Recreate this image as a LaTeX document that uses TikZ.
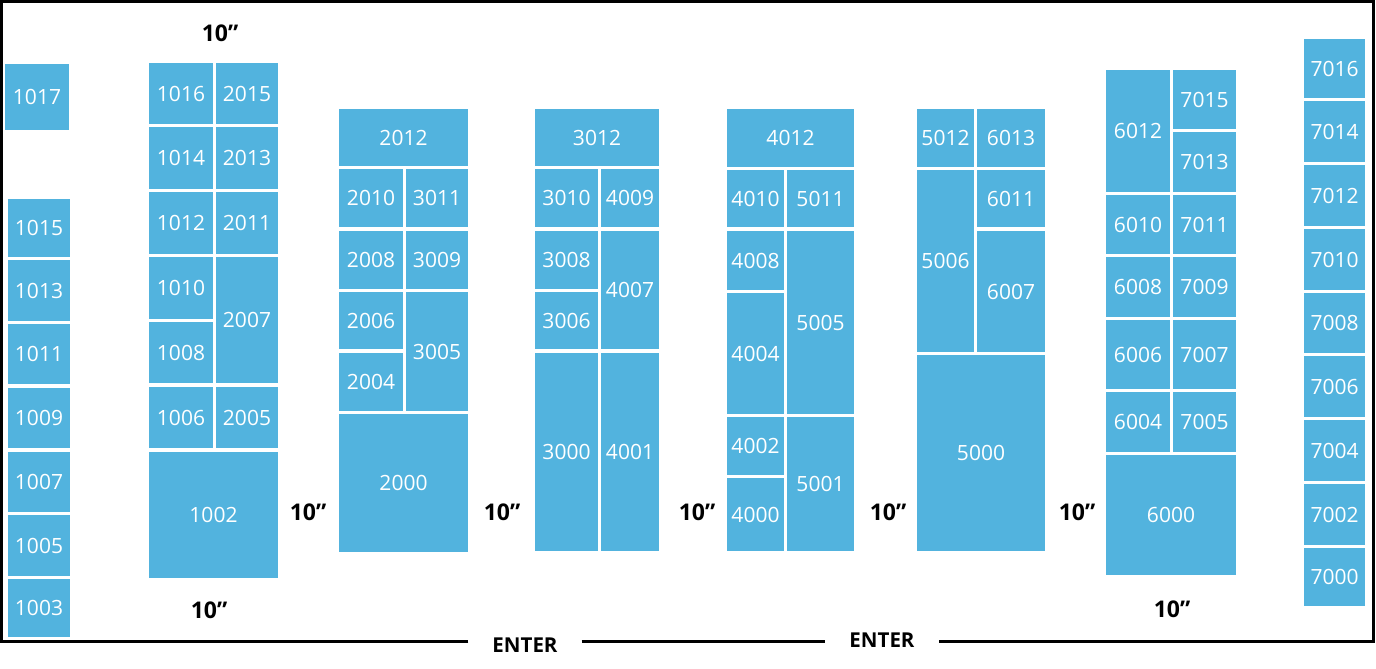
\documentclass[tikz,border=0pt]{standalone}
\usepackage{fontspec}
\setmainfont{Open Sans}
\definecolor{cellblue}{RGB}{82,179,222}
\tikzset{
  cell/.style={fill=cellblue, draw=none, inner sep=0pt, text=white, font=\fontsize{21}{23}\selectfont},
  dim/.style={inner sep=0pt, font=\fontsize{23}{25}\selectfont\bfseries},
  enterlbl/.style={inner xsep=24pt, inner ysep=0pt, font=\fontsize{20.5}{22}\selectfont\bfseries},
  frame/.style={line width=3pt, black}
}
\newcommand\blk[6]{%
  \pgfmathsetmacro\blkW{#4-#2}\pgfmathsetmacro\blkH{#5-#3}%
  \pgfmathsetmacro\blkX{(#2+#4)/2}\pgfmathsetmacro\blkY{(#3+#5)/2}%
  \node[cell, minimum width=\blkW pt, minimum height=\blkH pt] (#1) at (\blkX,\blkY) {#6};}
\begin{document}
\begin{tikzpicture}[x=1pt,y=-1pt]
\useasboundingbox (0,0) rectangle (1376,669);
% frame
\coordinate (tl) at (1.4,1.5);
\coordinate (tr) at (1373,1.5);
\coordinate (br) at (1373,641.7);
\coordinate (bl) at (1.4,641.7);
\node[enterlbl] (enter1) at (525,645) {ENTER};
\node[enterlbl] (enter2) at (882,640) {ENTER};
\draw[frame, line join=miter] (enter1.west |- bl) -- (bl) -- (tl) -- (tr) -- (br) -- (enter2.east |- br);
\draw[frame] (enter1.east |- bl) -- (enter2.west |- bl);
% column A
\blk{c1017}{5}{64}{69}{130}{1017}
\blk{c1015}{8}{199}{70}{257}{1015}
\blk{c1013}{8}{260}{70}{321}{1013}
\blk{c1011}{8}{324}{70}{384}{1011}
\blk{c1009}{8}{388}{70}{448}{1009}
\blk{c1007}{8}{452}{70}{512}{1007}
\blk{c1005}{8}{515}{70}{576}{1005}
\blk{c1003}{8}{579}{70}{637}{1003}
% column B
\blk{c1016}{149}{63}{213}{124}{1016}
\blk{c2015}{216}{63}{278}{124}{2015}
\blk{c1014}{149}{127}{213}{189}{1014}
\blk{c2013}{216}{127}{278}{189}{2013}
\blk{c1012}{149}{192}{213}{254}{1012}
\blk{c2011}{216}{192}{278}{254}{2011}
\blk{c1010}{149}{257}{213}{319}{1010}
\blk{c2007}{216}{257}{278}{383}{2007}
\blk{c1008}{149}{322}{213}{383}{1008}
\blk{c1006}{149}{387}{213}{448}{1006}
\blk{c2005}{216}{387}{278}{448}{2005}
\blk{c1002}{149}{452}{278}{578}{1002}
% column C
\blk{c2012}{339}{109}{468}{166}{2012}
\blk{c2010}{339}{169}{403}{227}{2010}
\blk{c3011}{406}{169}{468}{227}{3011}
\blk{c2008}{339}{231}{403}{289}{2008}
\blk{c3009}{406}{231}{468}{289}{3009}
\blk{c2006}{339}{292}{403}{349}{2006}
\blk{c3005}{406}{292}{468}{411}{3005}
\blk{c2004}{339}{353}{403}{411}{2004}
\blk{c2000}{339}{414}{468}{552}{2000}
% column D
\blk{c3012}{535}{109}{659}{166}{3012}
\blk{c3010}{535}{169}{598}{227}{3010}
\blk{c4009}{601}{169}{659}{227}{4009}
\blk{c3008}{535}{231}{598}{289}{3008}
\blk{c4007}{601}{231}{659}{349}{4007}
\blk{c3006}{535}{292}{598}{349}{3006}
\blk{c3000}{535}{353}{598}{551}{3000}
\blk{c4001}{601}{353}{659}{551}{4001}
% column E
\blk{c4012}{727}{109}{854}{167}{4012}
\blk{c4010}{727}{170}{784}{227}{4010}
\blk{c5011}{787}{170}{854}{227}{5011}
\blk{c4008}{727}{231}{784}{290}{4008}
\blk{c5005}{787}{231}{854}{414}{5005}
\blk{c4004}{727}{293}{784}{414}{4004}
\blk{c4002}{727}{417}{784}{475}{4002}
\blk{c5001}{787}{417}{854}{551}{5001}
\blk{c4000}{727}{478}{784}{551}{4000}
% column F
\blk{c5012}{917}{109}{974}{167}{5012}
\blk{c6013}{977}{109}{1045}{167}{6013}
\blk{c5006}{917}{170}{974}{352}{5006}
\blk{c6011}{977}{170}{1045}{227}{6011}
\blk{c6007}{977}{231}{1045}{352}{6007}
\blk{c5000}{917}{355}{1045}{551}{5000}
% column G
\blk{c6012}{1106}{70}{1170}{192}{6012}
\blk{c7015}{1173}{70}{1236}{129}{7015}
\blk{c7013}{1173}{132}{1236}{192}{7013}
\blk{c6010}{1106}{195}{1170}{254}{6010}
\blk{c7011}{1173}{195}{1236}{254}{7011}
\blk{c6008}{1106}{257}{1170}{317}{6008}
\blk{c7009}{1173}{257}{1236}{317}{7009}
\blk{c6006}{1106}{320}{1170}{389}{6006}
\blk{c7007}{1173}{320}{1236}{389}{7007}
\blk{c6004}{1106}{392}{1170}{452}{6004}
\blk{c7005}{1173}{392}{1236}{452}{7005}
\blk{c6000}{1106}{455}{1236}{575}{6000}
% column H
\blk{c7016}{1304}{39}{1365}{98}{7016}
\blk{c7014}{1304}{101}{1365}{162}{7014}
\blk{c7012}{1304}{165}{1365}{226}{7012}
\blk{c7010}{1304}{229}{1365}{290}{7010}
\blk{c7008}{1304}{293}{1365}{353}{7008}
\blk{c7006}{1304}{356}{1365}{417}{7006}
\blk{c7004}{1304}{420}{1365}{481}{7004}
\blk{c7002}{1304}{484}{1365}{545}{7002}
\blk{c7000}{1304}{548}{1365}{606}{7000}
% dimension labels
\node[dim] (d1) at (220,33) {10”};
\node[dim] (d2) at (209,610) {10”};
\node[dim] (d3) at (308,512) {10”};
\node[dim] (d4) at (502,512) {10”};
\node[dim] (d5) at (697,512) {10”};
\node[dim] (d6) at (888,512) {10”};
\node[dim] (d7) at (1077,512) {10”};
\node[dim] (d8) at (1172,609) {10”};
\end{tikzpicture}
\end{document}
